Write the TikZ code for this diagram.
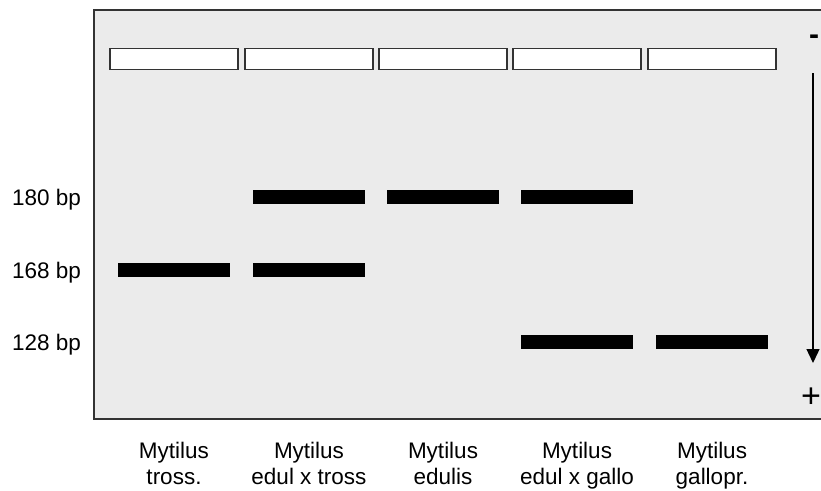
\documentclass[tikz,border=0pt]{standalone}
\usepackage{fontspec}
\setmainfont{Liberation Sans}
\usetikzlibrary{arrows.meta}
\definecolor{gelgray}{HTML}{EBEBEB}
\definecolor{edge}{HTML}{333333}
\tikzset{
  well/.style={draw=edge, line width=1.8pt, fill=white, minimum width=128pt, minimum height=21pt, inner sep=0pt},
  band/.style={fill=black, minimum width=112pt, minimum height=14pt, inner sep=0pt},
  sizelabel/.style={font=\fontsize{22.5}{24}\selectfont, anchor=base west, inner sep=0pt},
  lanelabel/.style={font=\fontsize{22.5}{26}\selectfont, align=center, anchor=north, inner sep=0pt},
  sign/.style={inner sep=0pt}
}
\begin{document}
\begin{tikzpicture}[x=1pt, y=-1pt]
\useasboundingbox (0,0) rectangle (821,490);
% gel panel
\fill[gelgray] (94,10) rectangle (821,419);
\draw[edge, line width=2pt] (821,10) -- (94,10) -- (94,419) -- (821,419);
% loading wells
\node[well] (w1) at (174,59) {};
\node[well] (w2) at (309,59) {};
\node[well] (w3) at (443,59) {};
\node[well] (w4) at (577,59) {};
\node[well] (w5) at (712,59) {};
% bands
\node[band] (b2a) at (309,197) {};
\node[band] (b3a) at (443,197) {};
\node[band] (b4a) at (577,197) {};
\node[band] (b1b) at (174,270) {};
\node[band] (b2b) at (309,270) {};
\node[band] (b4c) at (577,342) {};
\node[band] (b5c) at (712,342) {};
% size markers
\node[sizelabel] (s180) at (12,205) {180 bp};
\node[sizelabel] (s168) at (12,278) {168 bp};
\node[sizelabel] (s128) at (12,350) {128 bp};
% running direction
\node[sign, font=\fontsize{30}{30}\selectfont\bfseries] (minus) at (814,39.5) {-};
\node[sign, font=\fontsize{34}{34}\selectfont] (plus) at (811,398) {+};
\coordinate (ar1) at (813,73);
\coordinate (ar2) at (813,363);
\draw[line width=1.3pt, -{Triangle[width=13pt,length=14pt]}] (ar1) -- (ar2);
% lane labels
\node[lanelabel] (l1) at (174,442) {Mytilus\\tross.};
\node[lanelabel] (l2) at (309,442) {Mytilus\\edul x tross};
\node[lanelabel] (l3) at (443,442) {Mytilus\\edulis};
\node[lanelabel] (l4) at (577,442) {Mytilus\\edul x gallo};
\node[lanelabel] (l5) at (712,442) {Mytilus\\gallopr.};
\end{tikzpicture}
\end{document}
